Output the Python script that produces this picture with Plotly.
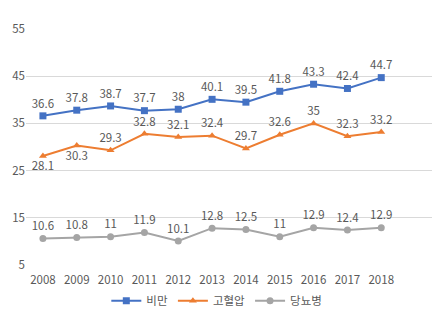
import plotly.graph_objects as go

years = ["2008","2009","2010","2011","2012","2013","2014","2015","2016","2017","2018"]
obesity = [36.6, 37.8, 38.7, 37.7, 38, 40.1, 39.5, 41.8, 43.3, 42.4, 44.7]
hypertension = [28.1, 30.3, 29.3, 32.8, 32.1, 32.4, 29.7, 32.6, 35, 32.3, 33.2]
diabetes = [10.6, 10.8, 11, 11.9, 10.1, 12.8, 12.5, 11, 12.9, 12.4, 12.9]
hyper_pos = ["bottom center", "bottom center"] + ["top center"] * 9

font = "Noto Sans CJK KR, sans-serif"
lab = dict(size=11.5, color="#595959", family=font)

fig = go.Figure()
fig.add_trace(go.Scatter(x=years, y=obesity, name="비만", mode="lines+markers+text",
    line=dict(color="#4472C4", width=2), marker=dict(symbol="square", size=7, color="#4472C4"),
    text=[str(v) for v in obesity], textposition="top center", textfont=lab, cliponaxis=False))
fig.add_trace(go.Scatter(x=years, y=hypertension, name="고혈압", mode="lines+markers+text",
    line=dict(color="#ED7D31", width=2), marker=dict(symbol="triangle-up", size=7, color="#ED7D31"),
    text=[str(v) for v in hypertension], textposition=hyper_pos, textfont=lab, cliponaxis=False))
fig.add_trace(go.Scatter(x=years, y=diabetes, name="당뇨병", mode="lines+markers+text",
    line=dict(color="#A5A5A5", width=2), marker=dict(symbol="circle", size=7, color="#A5A5A5"),
    text=[str(v) for v in diabetes], textposition="top center", textfont=lab, cliponaxis=False))

fig.update_layout(
    width=440, height=326, margin=dict(l=26, r=8, t=29, b=61),
    paper_bgcolor="white", plot_bgcolor="white",
    font=dict(family=font, color="#595959", size=11.5),
    xaxis=dict(type="category", range=[-0.5, 11.5], showgrid=False, showline=False,
               ticks="", ticklabelstandoff=6, tickfont=dict(size=11.5, color="#595959")),
    yaxis=dict(range=[5, 55], tickvals=[5, 15, 25, 35, 45, 55], showgrid=True,
               gridcolor="#D9D9D9", gridwidth=1, zeroline=False, showline=False,
               ticks="", tickfont=dict(size=11.5, color="#595959")),
    legend=dict(orientation="h", x=0.47, xanchor="center", y=-0.09, yanchor="top",
                font=dict(size=11.5, color="#595959"), itemwidth=30, tracegroupgap=0),
    showlegend=True,
)
fig.write_html("out.html")
